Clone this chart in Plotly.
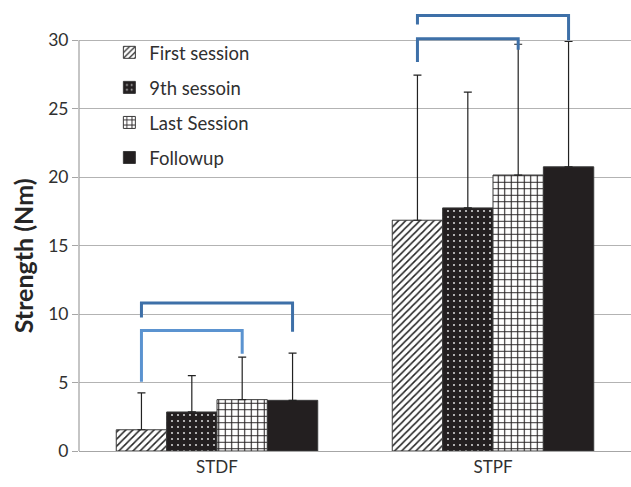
import plotly.graph_objects as go

categories = ["STDF", "STPF"]
series_names = ["First session", "9th sessoin", "Last Session", "Followup"]
means = {
    "First session": [1.55, 16.85],
    "9th sessoin": [2.85, 17.75],
    "Last Session": [3.75, 20.15],
    "Followup": [3.70, 20.75],
}
sd_plus = {
    "First session": [2.70, 10.60],
    "9th sessoin": [2.65, 8.45],
    "Last Session": [3.10, 9.55],
    "Followup": [3.45, 9.15],
}
y_ticks = [0, 5, 10, 15, 20, 25, 30]

# significance brackets: category index, from bar, to bar, top y, left-foot y, right-foot y, colour
br_cat = [0, 0, 1, 1]
br_from = [0, 0, 0, 0]
br_to = [2, 3, 2, 3]
br_top = [8.8, 10.8, 30.1, 31.8]
br_left = [5.05, 9.75, 28.4, 31.15]
br_right = [7.1, 8.7, 29.3, 30.0]
br_color = ["#5b93d0", "#3e70a8", "#3e70a8", "#3e70a8"]

styles = {
    "First session": dict(shape="/", bgcolor="white", fgcolor="#222222", size=5, solidity=0.3),
    "9th sessoin": dict(shape=".", bgcolor="#231f20", fgcolor="#d0d0d0", size=6, solidity=0.1),
    "Last Session": dict(shape="+", bgcolor="white", fgcolor="#231f20", size=6.5, solidity=0.3),
    "Followup": dict(shape="", bgcolor="#231f20", fgcolor="#231f20", size=6, solidity=0.3),
}

BARGAP = 0.27
fig = go.Figure()
for i, name in enumerate(series_names):
    st = styles[name]
    fig.add_trace(go.Bar(
        x=categories, y=means[name], name=name,
        legendgroup=name,
        marker=dict(
            color=st["bgcolor"],
            line=dict(color="#3a3a3a", width=1),
            pattern=dict(shape=st["shape"], bgcolor=st["bgcolor"], fgcolor=st["fgcolor"],
                         size=st["size"], solidity=st["solidity"], fillmode="replace"),
        ),
        error_y=dict(type="data", symmetric=False, array=sd_plus[name],
                     arrayminus=[0] * len(categories), color="#222222",
                     thickness=1.2, width=4),
    ))

nbars = len(series_names)
bw = (1 - BARGAP) / nbars
def bar_x(cat, k):
    return cat - (1 - BARGAP) / 2 + bw * (k + 0.5)

shapes = []
for c, f, t, top, yl, yr, col in zip(br_cat, br_from, br_to, br_top, br_left, br_right, br_color):
    x0, x1 = bar_x(c, f), bar_x(c, t)
    path = f"M {x0},{yl} L {x0},{top} L {x1},{top} L {x1},{yr}"
    shapes.append(dict(type="path", xref="x", yref="y", path=path,
                       line=dict(color=col, width=3)))
# left axis line from 0 to 30
shapes.append(dict(type="line", xref="paper", yref="y", x0=0, x1=0, y0=0, y1=30,
                   line=dict(color="#a6a6a6", width=1.3)))

fig.update_layout(
    width=631, height=487,
    margin=dict(l=79, r=0, t=10, b=36),
    paper_bgcolor="white", plot_bgcolor="white",
    barmode="group", bargap=BARGAP, bargroupgap=0,
    font=dict(family="Lato, Open Sans, sans-serif", color="#303030", size=17),
    showlegend=True,
    legend=dict(x=0.055, y=0.946, xanchor="left", yanchor="top",
                bgcolor="rgba(0,0,0,0)", font=dict(size=18.5),
                tracegroupgap=8, itemwidth=30),
    shapes=shapes,
    annotations=[dict(text="<b>Strength (Nm)</b>", textangle=-90, xref="paper", yref="paper",
                      x=-0.101, y=0.442, xanchor="center", yanchor="middle",
                      showarrow=False, font=dict(size=25, color="#262626"))],
    xaxis=dict(showline=True, linecolor="#a6a6a6", linewidth=1.3, ticks="",
               tickfont=dict(size=17), showgrid=False, automargin=False),
    yaxis=dict(range=[0, 32.2], tickvals=y_ticks, showgrid=True, gridcolor="#b3b3b3",
               gridwidth=1.3, zeroline=False, showline=False, ticks="outside",
               ticklen=6, tickcolor="#a6a6a6", tickfont=dict(size=17.5), automargin=False),
)

fig.write_html("out.html", config={"displayModeBar": False},
               post_script="document.body.style.margin='0';document.body.style.padding='0';document.body.style.overflow='hidden';")
